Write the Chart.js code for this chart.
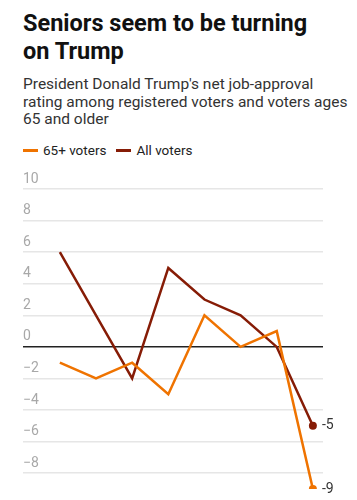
<!DOCTYPE html>
<html>
<head>
<meta charset="utf-8">
<script src="https://cdn.jsdelivr.net/npm/chart.js@4"></script>
<style>
  html,body{margin:0;padding:0;background:#fff;width:357px;height:500px;overflow:hidden;font-family:Roboto,"Liberation Sans",sans-serif;}
  #title{position:absolute;left:23px;top:9px;width:300px;font-weight:700;font-size:23.5px;line-height:28px;color:#111;}
  #sub{position:absolute;left:23px;top:76px;white-space:nowrap;font-size:15.5px;line-height:17.5px;color:#333;}
  #legend{position:absolute;left:23px;top:142px;font-size:13.5px;color:#222;white-space:nowrap;}
  .li{display:inline-block;margin-right:10px;}
  .sw{display:inline-block;width:15px;height:2.5px;vertical-align:middle;margin-right:5px;position:relative;top:-1px;}
  #wrap{position:absolute;left:0;top:165px;width:357px;height:335px;}
</style>
</head>
<body>
<div id="title">Seniors seem to be turning on Trump</div>
<div id="sub">President Donald Trump's net job-approval<br>rating among registered voters and voters ages<br>65 and older</div>
<div id="legend"><span class="li"><span class="sw" style="background:#ef7300"></span>65+ voters</span><span class="li"><span class="sw" style="background:#861c06"></span>All voters</span></div>
<div id="wrap"><canvas id="c"></canvas></div>
<script>
const categories = ["Poll 1","Poll 2","Poll 3","Poll 4","Poll 5","Poll 6","Poll 7","Poll 8"];
const seniors = [-1, -2, -1, -3, 2, 0, 1, -9];
const allVoters = [6, 2, -2, 5, 3, 2, 0, -5];
const yTicks = [10, 8, 6, 4, 2, 0, -2, -4, -6, -8];
const seriesNames = ["65+ voters", "All voters"];

const ORANGE = "#ef7300", RED = "#861c06";
const pts = arr => arr.map((v,i)=>({x:i,y:v}));
const lastOnly = arr => ctx => ctx.dataIndex === arr.length-1 ? 4 : 0;

const endLabels = {
  id:'endLabels',
  afterDatasetsDraw(chart){
    const {ctx} = chart;
    ctx.save();
    ctx.font = '14px Roboto, sans-serif';
    ctx.fillStyle = '#333';
    ctx.textBaseline = 'middle';
    ctx.textAlign = 'left';
    chart.data.datasets.forEach((ds,di)=>{
      const meta = chart.getDatasetMeta(di);
      const p = meta.data[meta.data.length-1];
      const v = ds.data[ds.data.length-1].y;
      ctx.fillText(String(v), p.x + 9, p.y);
    });
    ctx.restore();
  }
};

new Chart(document.getElementById('c'), {
  type:'line',
  data:{
    labels: categories,
    datasets:[
      {label:seriesNames[0], data:pts(seniors), borderColor:ORANGE, backgroundColor:ORANGE, borderWidth:2.5, pointRadius:lastOnly(seniors), pointBorderWidth:0, tension:0, clip:{left:false,top:false,right:false,bottom:0}},
      {label:seriesNames[1], data:pts(allVoters), borderColor:RED, backgroundColor:RED, borderWidth:2.5, pointRadius:lastOnly(allVoters), pointBorderWidth:0, tension:0, clip:false}
    ]
  },
  options:{
    responsive:true, maintainAspectRatio:false, animation:false,
    layout:{padding:{top:24,bottom:11,left:23,right:34}},
    plugins:{legend:{display:false}, tooltip:{enabled:false}},
    scales:{
      x:{type:'linear', min:-1.02, max:7.28, display:false},
      y:{
        min:-9, max:10,
        afterBuildTicks: s => { s.ticks = yTicks.map(v=>({value:v})); },
        border:{display:false},
        grid:{drawTicks:false, lineWidth:1.5, color: c => c.tick && c.tick.value===0 ? '#222' : '#e6e6e6'},
        ticks:{mirror:true, padding:0, labelOffset:-10, color:'#a8a8a8', font:{family:'Roboto', size:14},
          callback: v => String(v).replace('-', '\u2212')}
      }
    }
  },
  plugins:[endLabels]
});
</script>
</body>
</html>
